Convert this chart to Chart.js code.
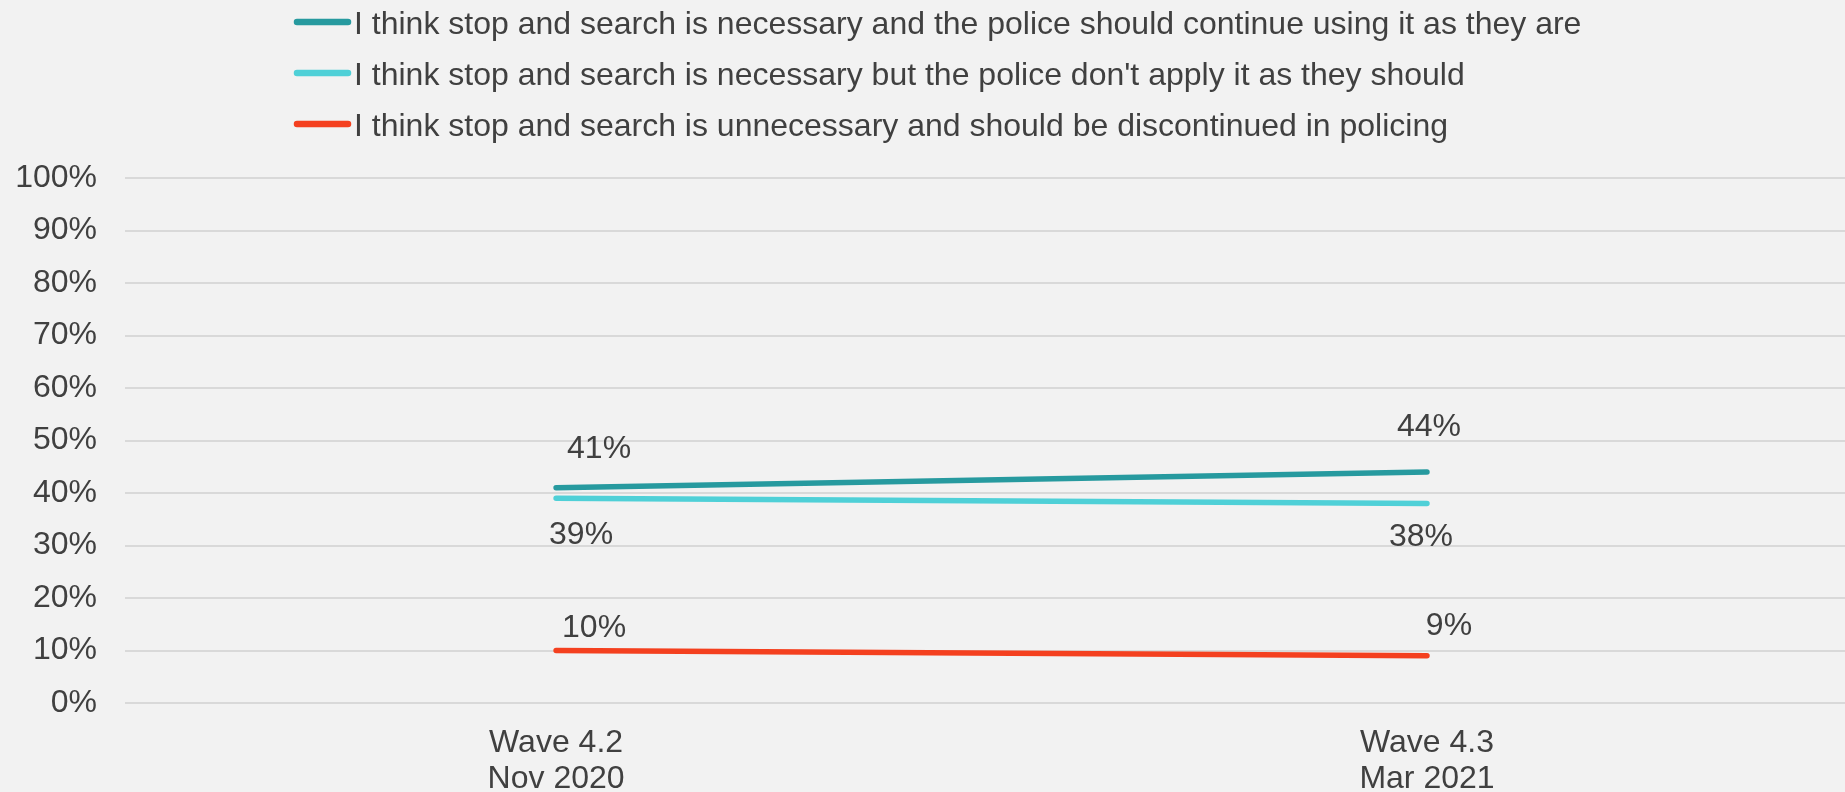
<!DOCTYPE html>
<html>
<head>
<meta charset="utf-8">
<script src="https://cdn.jsdelivr.net/npm/chart.js@4"></script>
<style>
  html, body { margin: 0; padding: 0; background: #f2f2f2; }
  #wrap { width: 1845px; height: 792px; }
</style>
</head>
<body>
<div id="wrap"><canvas id="c" width="1845" height="792"></canvas></div>
<script>
// ---- data ----
const categories = [["Wave 4.2", "Nov 2020"], ["Wave 4.3", "Mar 2021"]];
const seriesNames = [
  "I think stop and search is necessary and the police should continue using it as they are",
  "I think stop and search is necessary but the police don't apply it as they should",
  "I think stop and search is unnecessary and should be discontinued in policing"
];
const continueAsTheyAre = [41, 44];
const necessaryButMisapplied = [39, 38];
const unnecessaryDiscontinue = [10, 9];
const yTickValues = [0, 10, 20, 30, 40, 50, 60, 70, 80, 90, 100];

// ---- style ----
const seriesColors = ["#279a9f", "#4fd0d7", "#f4401f"];
const labelOffsets = [   // data label offsets from each point [dx, dy]
  [[43, -39], [2, -45]],
  [[25, 37], [-6, 34]],
  [[38, -22], [22, -30]]
];
const FONT = '"Liberation Sans", Arial, Helvetica, sans-serif';
const TEXT = '#404040';

const seriesValues = [continueAsTheyAre, necessaryButMisapplied, unnecessaryDiscontinue];

const datasets = seriesValues.map((vals, i) => ({
  label: seriesNames[i],
  data: vals.map((v, j) => ({ x: j, y: v })),
  borderColor: seriesColors[i],
  backgroundColor: seriesColors[i],
  borderWidth: 5.5,
  borderCapStyle: 'round',
  borderJoinStyle: 'round',
  pointRadius: 0,
  pointHoverRadius: 0,
  tension: 0,
  fill: false
}));

const customLegend = {
  id: 'customLegend',
  afterDraw(chart) {
    const ctx = chart.ctx;
    ctx.save();
    chart.data.datasets.forEach((ds, i) => {
      const cy = 22 + i * 51;
      ctx.strokeStyle = ds.borderColor;
      ctx.lineWidth = 6.5;
      ctx.lineCap = 'round';
      ctx.beginPath();
      ctx.moveTo(297, cy);
      ctx.lineTo(348, cy);
      ctx.stroke();
      ctx.fillStyle = TEXT;
      ctx.font = '32px ' + FONT;
      ctx.textAlign = 'left';
      ctx.textBaseline = 'alphabetic';
      ctx.fillText(ds.label, 354, cy + 11.5);
    });
    ctx.restore();
  }
};

const dataLabels = {
  id: 'dataLabels',
  afterDatasetsDraw(chart) {
    const ctx = chart.ctx;
    ctx.save();
    ctx.fillStyle = TEXT;
    ctx.font = '32px ' + FONT;
    ctx.textAlign = 'center';
    ctx.textBaseline = 'middle';
    chart.data.datasets.forEach((ds, i) => {
      const meta = chart.getDatasetMeta(i);
      meta.data.forEach((el, j) => {
        const off = labelOffsets[i][j];
        ctx.fillText(ds.data[j].y + '%', el.x + off[0], el.y + off[1]);
      });
    });
    ctx.restore();
  }
};

const bgPlugin = {
  id: 'bg',
  beforeDraw(chart) {
    const ctx = chart.ctx;
    ctx.save();
    ctx.fillStyle = '#f2f2f2';
    ctx.fillRect(0, 0, chart.width, chart.height);
    ctx.restore();
  }
};

new Chart(document.getElementById('c'), {
  type: 'line',
  data: { datasets },
  options: {
    responsive: false,
    animation: false,
    devicePixelRatio: 1,
    layout: { padding: { top: 178, left: 0, right: 0, bottom: 0 } },
    plugins: {
      legend: { display: false },
      tooltip: { enabled: false }
    },
    scales: {
      x: {
        type: 'linear',
        min: -0.495,
        max: 1.48,
        afterBuildTicks(scale) { scale.ticks = categories.map((_, i) => ({ value: i })); },
        afterFit(scale) { scale.height = 89; },
        grid: { display: false, drawTicks: false },
        border: { display: false },
        ticks: {
          padding: 23,
          maxRotation: 0,
          autoSkip: false,
          color: TEXT,
          font: { family: FONT, size: 32, lineHeight: 1.1 },
          callback: (v) => categories[v]
        }
      },
      y: {
        min: 0,
        max: 100,
        afterBuildTicks(scale) { scale.ticks = yTickValues.map(v => ({ value: v })); },
        afterFit(scale) { scale.width = 125; },
        grid: { color: '#d9d9d9', lineWidth: 2, drawTicks: false },
        border: { display: false },
        ticks: {
          padding: 28,
          color: TEXT,
          font: { family: FONT, size: 32 },
          callback: (v) => v + '%'
        }
      }
    }
  },
  plugins: [bgPlugin, customLegend, dataLabels]
});
</script>
</body>
</html>
